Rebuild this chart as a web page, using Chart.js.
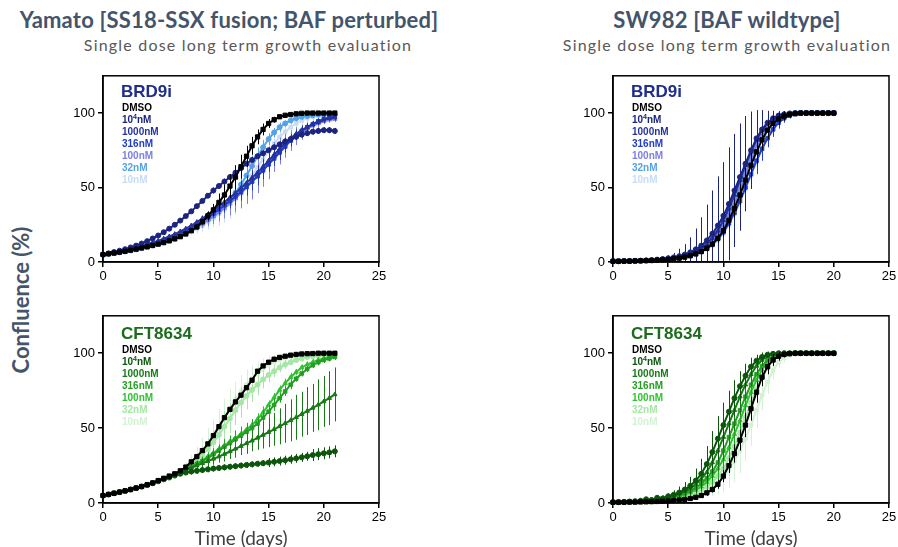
<!DOCTYPE html>
<html>
<head>
<meta charset="utf-8">
<script src="https://cdn.jsdelivr.net/npm/chart.js@4.4.1/dist/chart.umd.min.js"></script>
<style>
  body { margin: 0; width: 898px; height: 547px; background: #fff; position: relative; overflow: hidden; }
  .title { position: absolute; width: 500px; text-align: center; line-height: 1; white-space: nowrap;
           font-family: Lato, "Open Sans", sans-serif; color: #44546a; }
  .main { font-weight: bold; font-size: 22px; top: 9px; letter-spacing: 0.2px; }
  .sub { font-size: 16px; top: 37px; color: #595959; letter-spacing: 1.2px; }
  .ylab { position: absolute; left: 20px; top: 300px; transform: translate(-50%, -50%) rotate(-90deg);
          font-family: Lato, sans-serif; font-weight: bold; font-size: 22px; color: #44546a; white-space: nowrap; }
  canvas { position: absolute; }
</style>
</head>
<body>
<div class="title main" style="left:-21px">Yamato [SS18-SSX fusion; BAF perturbed]</div>
<div class="title sub" style="left:-2px">Single dose long term growth evaluation</div>
<div class="title main" style="left:477px">SW982 [BAF wildtype]</div>
<div class="title sub" style="left:477px">Single dose long term growth evaluation</div>
<div class="ylab">Confluence (%)</div>

<canvas id="yamBrd" width="340" height="225" style="left:50px;top:65px"></canvas>
<canvas id="swBrd" width="340" height="225" style="left:560px;top:65px"></canvas>
<canvas id="yamCft" width="340" height="245" style="left:50px;top:305px"></canvas>
<canvas id="swCft" width="340" height="245" style="left:560px;top:305px"></canvas>

<script>
// time points (days)
const daysYamato = [0,0.5,1,1.5,2,2.5,3,3.5,4,4.5,5,5.5,6,6.5,7,7.5,8,8.5,9,9.5,10,10.5,11,11.5,12,12.5,13,13.5,14,14.5,15,15.5,16,16.5,17,17.5,18,18.5,19,19.5,20,20.5,21];
const daysSW982 = [0,0.5,1,1.5,2,2.5,3,3.5,4,4.5,5,5.5,6,6.5,7,7.5,8,8.5,9,9.5,10,10.5,11,11.5,12,12.5,13,13.5,14,14.5,15,15.5,16,16.5,17,17.5,18,18.5,19,19.5,20];

const doseLabels = ['DMSO', '10\u2074nM', '1000nM', '316nM', '100nM', '32nM', '10nM'];
const xTicks = [0, 5, 10, 15, 20, 25];
const yTicks = [0, 50, 100];

// Yamato + BRD9i (confluence %)
const yamBrdDmso = [5,5.5,6,6.6,7.2,7.9,8.6,9.4,10.2,11.1,12,13,14.2,15.5,17,18.8,21,23.5,27,31,35,40,45,51,57,64,71,78,84,89,93,95.5,97.5,98.5,99,99.5,99.8,100,100,100,100,100,100];
const yamBrd10000 = [5,5.8,6.7,7.6,8.6,9.8,11,12.4,14,15.8,17.8,20,22.4,25,27.8,30.8,34,37.5,41,44.5,48,51,54,57,60,63,66,68.5,71,73,75,77,79,81,82.5,84,85.5,86.5,87.5,88,88.5,88.5,88];
const yamBrd1000 = [5,5.6,6.3,7,7.8,8.7,9.6,10.6,11.7,12.9,14.2,15.6,17.1,18.7,20.5,22.4,24.5,26.8,29.2,31.8,34.5,37.3,40.2,43.2,46.3,49.5,53,56.5,60,64,68,72,76,79.5,83,86,88.5,90.5,92.5,94,95.5,96.5,97];
const yamBrd316 = [5,5.5,6.1,6.8,7.5,8.3,9.2,10.1,11.1,12.2,13.4,14.7,16.1,17.6,19.3,21.1,23.1,25.3,27.6,30,32.6,35.3,38.1,41,44,47.2,50.5,54,57.5,61.5,65.5,69.5,73.5,77.5,81.5,85,88,90.5,92.5,94.5,96,97,98];
const yamBrd100 = [5,5.5,6,6.6,7.3,8,8.8,9.7,10.6,11.6,12.7,13.9,15.2,16.6,18.1,19.8,21.6,23.6,25.8,28.1,30.6,33.3,36.2,39.3,42.6,46.2,50,54,58.2,62.5,66.5,70.5,74.5,78,81.5,84.5,87,89.5,91.5,93,94.5,95.5,96];
const yamBrd32 = [5,5.4,5.9,6.5,7.1,7.8,8.5,9.3,10.2,11.2,12.3,13.5,14.8,16.2,17.8,19.5,21.4,23.5,25.8,28.4,31.2,34.3,37.8,41.8,46.5,52,58,64.5,71,77,82.5,87,90.5,93,95,96.5,97.5,98,98.5,99,99,99,99];
const yamBrd10 = [5,5.4,5.8,6.3,6.9,7.5,8.2,9,9.8,10.7,11.7,12.8,14,15.3,16.8,18.4,20.2,22.2,24.4,26.8,29.4,32.3,35.5,39,43,47.5,52.5,58,63.5,69,74.5,79.5,84,87.5,90.5,93,95,96.5,97.5,98,98.5,99,99];
// Yamato + BRD9i (SD)
const yamBrdDmsoSd = [1,1,1,1,1,1,1,1,1,1,1,1,1,1,1,1,1,1,2,3,4,6,7,8,8,8,7,6,5,4,3,2,1,1,1,1,1,1,1,1,1,1,1];
const yamBrd10000Sd = [1,1,1,1,1,1,1,1,1,1,1,1,1,1,1,1,1,1,1,1,2,2,2,2,2,2,2,2,2,2,2,2,2,2,2,2,2,2,2,2,2,2,2];
const yamBrd1000Sd = [1,1,1,1,1,1,1,1,1,1,1,1,1,1,1,1,1,1,2,2,3,3,4,4,4,5,5,5,5,5,5,4,4,4,3,3,3,2,2,2,2,2,2];
const yamBrd316Sd = [1,1,1,1,1,1,1,1,1,1,1,1,1,1,1,1,1,1,2,3,3,4,5,5,6,6,6,6,6,6,5,5,5,4,4,3,3,3,2,2,2,2,2];
const yamBrd100Sd = [1,1,1,1,1,1,1,1,1,1,1,1,1,1,1,1,2,2,3,4,5,6,7,8,9,10,11,12,12,12,11,10,9,8,7,6,5,4,3,3,2,2,2];
const yamBrd32Sd = [1,1,1,1,1,1,1,1,1,1,1,1,1,1,1,1,1,1,2,3,4,5,6,7,8,8,8,7,6,5,4,3,3,2,2,2,2,2,2,2,2,2,2];
const yamBrd10Sd = [1,1,1,1,1,1,1,1,1,1,1,1,1,1,1,1,2,3,4,5,6,8,9,10,11,12,12,12,12,11,10,9,8,7,6,5,4,3,3,2,2,2,2];

// SW982 + BRD9i
const swBrdDmso = [0.5,0.5,0.6,0.6,0.7,0.8,0.9,1,1.2,1.4,1.7,2.1,2.6,3.3,4.2,5.4,7,9.2,12,16,21,28,36,45,55,65,74,82,88.5,93,96,98,99,99.6,100,100,100,100,100,100,100];
const swBrd10000 = [0.5,0.5,0.6,0.7,0.8,0.9,1.1,1.3,1.6,2,2.5,3.1,3.9,5,6.5,8.5,11,14.5,19,24.5,31,39,48,57,66,75,83,89,93.5,96.5,98.3,99.2,99.7,100,100,100,100,100,100,100,100];
const swBrd1000 = [0.5,0.5,0.6,0.7,0.8,0.9,1,1.2,1.4,1.7,2.1,2.6,3.3,4.2,5.4,7,9.2,12,16,21,28,36,45,55,65,74,82,88.5,93,96,98,99,99.6,100,100,100,100,100,100,100,100];
const swBrd316 = [0.5,0.5,0.6,0.6,0.7,0.8,0.9,1,1.2,1.4,1.7,2.1,2.6,3.3,4.2,5.4,7,9.2,12,15.5,20,26,33,41,50,59,68,76,83,89,93.5,96.5,98.3,99.3,99.8,100,100,100,100,100,100];
const swBrd100 = [0.5,0.5,0.6,0.6,0.7,0.8,0.9,1.1,1.3,1.6,1.9,2.4,3,3.8,4.8,6.2,8,10.5,14,18.5,24,31,40,49,59,69,78,85.5,91,95,97.5,98.8,99.5,100,100,100,100,100,100,100,100];
const swBrd32 = [0.5,0.5,0.6,0.6,0.7,0.8,1,1.2,1.4,1.7,2,2.5,3.2,4,5.1,6.6,8.6,11.3,15,20,26,33,42,52,62,71,80,87,92,95.5,97.8,99,99.6,100,100,100,100,100,100,100,100];
const swBrd10 = [0.5,0.5,0.5,0.6,0.6,0.7,0.8,0.9,1.1,1.3,1.6,2,2.5,3.1,4,5.1,6.5,8.5,11,14.5,19,25,32,40,49,58,67,76,84,90,94.5,97.3,98.8,99.5,100,100,100,100,100,100,100];
const swBrdDmsoSd = [0,0,0,0,0,0,0,0,0,0,0,0,0,0,1,1,1,2,2,3,4,5,6,7,8,8,8,7,6,5,4,3,2,1,1,1,1,1,1,1,1];
const swBrd10000Sd = [0,0,0,0,0,0,0,0,0,1,2,3,5,7,10,14,19,24,29,33,36,38,38,36,32,26,19,13,8,5,3,2,1,1,1,0,0,0,0,0,0];
const swBrd1000Sd = [0,0,0,0,0,0,0,0,0,0,0,0,1,1,2,2,3,4,5,6,8,9,10,10,10,9,8,6,5,4,3,2,1,1,1,0,0,0,0,0,0];
const swBrd316Sd = [0,0,0,0,0,0,0,0,0,0,0,0,0,1,1,2,2,3,4,5,6,8,9,10,10,10,9,8,6,5,4,3,2,1,1,1,0,0,0,0,0];
const swBrd100Sd = [0,0,0,0,0,0,0,0,0,0,0,0,0,1,1,2,2,3,4,5,6,7,7,7,7,6,5,4,3,2,1,1,1,0,0,0,0,0,0,0,0];
const swBrd32Sd = [0,0,0,0,0,0,0,0,0,0,0,0,0,1,1,2,2,3,4,5,6,7,7,7,7,6,5,4,3,2,1,1,1,0,0,0,0,0,0,0,0];
const swBrd10Sd = [0,0,0,0,0,0,0,0,0,0,0,0,0,0,1,1,2,2,3,4,5,6,7,7,7,7,6,5,4,3,2,1,1,1,0,0,0,0,0,0,0];

// Yamato + CFT8634
const yamCftDmso = [5,5.7,6.5,7.3,8.1,9,10,11,12.2,13.4,15,16.5,18,19.5,21.5,24,27.5,31,35,39.5,45,51,57,62.5,67.5,72,77,82,88,91.5,94,96,97.2,98,98.7,99.2,99.5,99.7,99.8,100,100,100,100];
const yamCft10000 = [5,5.7,6.5,7.3,8.1,9,10,11,12,13.2,14.5,15.8,17,18.3,19.5,20.3,21,21.5,22,22.5,23,23.4,23.8,24.2,24.6,25,25.4,25.8,26.2,26.6,27,27.5,28,28.6,29.2,29.8,30.5,31.2,32,32.6,33.2,33.8,34.5];
const yamCft1000 = [5,5.7,6.5,7.3,8.1,9,10,11,12.2,13.4,14.7,16,17.5,19,20.5,22,23.5,25,26.5,28,29.5,31,32.7,34.4,36.2,38,39.8,41.6,43.5,45.4,47.3,49.2,51.2,53.2,55.2,57.2,59.3,61.4,63.5,65.6,67.8,70,72.5];
const yamCft316 = [5,5.7,6.5,7.3,8.1,9,10,11,12.2,13.4,14.7,16,17.4,18.8,20.3,22,24,26,28,30,32.5,35,37.5,40,42.5,45,47.5,50,53,57,61,65.5,70,74.5,79,83,86.5,89.5,92,94,95.5,96.5,97.5];
const yamCft100 = [5,5.7,6.5,7.3,8.1,9,10,11,12.2,13.4,14.7,16,17.4,18.8,20.3,22.2,24.5,26.5,28.5,31,33.5,36,38.5,41,43.5,46,49,52,56,60.5,65.5,70.5,75.5,80,84,87.5,90.5,92.5,94,95.5,96.5,97.5,98];
const yamCft32 = [5,5.7,6.5,7.3,8.1,9,10,11,12.2,13.4,14.7,16,17.4,19,21,23,25.5,28.5,32,36,40.5,45.5,51,56.5,62,67,71.5,75.5,79,82.5,85.5,88,90.5,92.5,94,95.5,96.5,97.5,98,98.5,99,99,99];
const yamCft10 = [5,5.7,6.5,7.3,8.1,9,10,11,12.2,13.4,14.7,16,17.5,19.3,21.5,24,27,30.5,34.5,39,44,50,56.5,63,69,74.5,79,83,86.5,89.5,92,94,95.5,96.5,97.5,98.2,98.8,99.2,99.5,99.7,100,100,100];
const yamCftDmsoSd = [1,1,1,1,1,1,1,1,1,1,1,1,1,1,1,1,1,1,1,1,1,1,1,1,1,1,1,1,1,1,1,1,1,1,1,1,1,1,1,1,1,1,1];
const yamCft10000Sd = [1,1,1,1,1,1,1,1,1,1,1,1,1,1,1,1,2,2,2,2,2,2,2,2,2,2,2,2,2,2,3,3,3,3,3,3,3,3,4,4,4,4,4];
const yamCft1000Sd = [1,1,1,1,1,1,1,1,1,1,1,1,2,2,2,2,3,3,3,4,4,4,5,5,6,6,7,7,8,9,10,11,12,13,14,15,15,16,16,17,17,18,18];
const yamCft316Sd = [1,1,1,1,1,1,1,1,1,1,1,1,1,1,1,1,2,2,3,3,4,4,5,5,6,6,6,6,5,5,4,4,3,3,3,2,2,2,2,2,2,2,2];
const yamCft100Sd = [1,1,1,1,1,1,1,1,1,1,1,1,1,1,1,1,2,2,2,3,3,3,4,4,4,4,4,4,4,4,3,3,3,3,3,2,2,2,2,2,2,2,2];
const yamCft32Sd = [1,1,1,1,1,1,1,1,1,1,1,1,1,1,2,3,4,5,6,7,8,9,10,10,10,10,9,8,7,6,5,4,3,3,2,2,2,2,2,2,2,2,2];
const yamCft10Sd = [1,1,1,1,1,1,1,1,1,1,1,1,1,1,2,3,5,7,9,11,12,13,13,13,12,11,10,9,8,7,6,5,4,3,3,2,2,2,2,2,2,2,2];

// SW982 + CFT8634
const swCftDmso = [0.5,0.5,0.5,0.6,0.6,0.7,0.8,0.9,1,1.2,1.4,1.7,2,2.4,3,3.8,5,6.8,9,12.5,18,25,33,42,52,63,74,84,91,95.5,98,99.2,99.7,100,100,100,100,100,100,100,100];
const swCft10000 = [0.5,0.6,0.8,1,1.2,1.5,2.5,2,3.5,3,4.5,5.5,7,9,11.5,15,19.5,26,34,43,52,61,70,78,85,91,95,97.5,99,99.6,100,100,100,100,100,100,100,100,100,100,100];
const swCft1000 = [0.5,0.6,0.7,0.9,1.1,1.4,1.8,2.2,2.8,3.2,4,5,6.2,7.8,9.8,12.5,16,20.5,27,35,44,53,62,71,79,86,91.5,95.5,98,99.2,99.8,100,100,100,100,100,100,100,100,100,100];
const swCft316 = [0.5,0.5,0.6,0.8,1,1.3,1.6,2,2.5,3,3.6,4.4,5.4,6.6,8.2,10.2,13,16.5,21,27,35,44,53,62,71,79,86,91.5,95.5,98,99.2,99.8,100,100,100,100,100,100,100,100,100];
const swCft100 = [0.5,0.5,0.6,0.7,0.9,1.1,1.4,1.7,2.1,2.6,3.1,3.8,4.6,5.6,7,8.7,11,14,18,23,29,37,46,55,65,74,82,89,94,97,98.7,99.5,100,100,100,100,100,100,100,100,100];
const swCft32 = [0.5,0.5,0.5,0.6,0.7,0.9,1.1,1.3,1.6,2,2.5,3,3.7,4.5,5.6,7,8.8,11,14,18,23,30,38,47,57,67,76,84,90.5,95,97.8,99.2,99.8,100,100,100,100,100,100,100,100];
const swCft10 = [0.5,0.5,0.5,0.5,0.6,0.7,0.8,1,1.2,1.5,1.9,2.3,2.8,3.4,4.2,5.2,6.5,8.2,10.5,13.5,17,22,28,35,43,52,62,72,81,88.5,94,97,98.7,99.5,100,100,100,100,100,100,100];
const swCftDmsoSd = [0,0,0,0,0,0,0,0,0,0,0,0,0,0,1,1,1,2,2,3,4,5,6,7,8,8,7,6,5,4,3,2,1,1,1,0,0,0,0,0,0];
const swCft10000Sd = [0,0,0,0,0,0,1,1,1,2,2,3,4,5,6,8,10,12,14,15,15,14,12,10,8,6,4,3,2,1,1,0,0,0,0,0,0,0,0,0,0];
const swCft1000Sd = [0,0,0,0,0,0,0,1,1,1,2,2,3,4,5,6,8,10,12,14,15,15,14,12,10,8,6,4,3,2,1,1,0,0,0,0,0,0,0,0,0];
const swCft316Sd = [0,0,0,0,0,0,0,0,1,1,1,2,2,3,4,5,6,8,10,12,14,15,15,14,12,10,8,6,4,3,2,1,1,0,0,0,0,0,0,0,0];
const swCft100Sd = [0,0,0,0,0,0,0,0,0,1,1,1,2,2,3,4,5,6,7,8,9,10,10,10,9,8,7,6,5,4,3,2,1,1,0,0,0,0,0,0,0];
const swCft32Sd = [0,0,0,0,0,0,0,0,0,0,1,1,1,2,2,3,4,5,6,8,10,12,12,12,10,8,6,5,4,3,2,1,1,0,0,0,0,0,0,0,0];
const swCft10Sd = [0,0,0,0,0,0,0,0,0,0,0,1,1,1,2,2,3,4,6,8,10,12,14,15,15,14,12,10,8,6,4,3,2,1,1,1,0,0,0,0,0];

const blueColors = ['#000000', '#1b2580', '#27339c', '#1f3cc8', '#7c80e4', '#55a2e8', '#c9dcf6'];
const greenColors = ['#000000', '#0c560c', '#177a17', '#249e24', '#2fc42f', '#a6e6a6', '#d3f2d3'];
const markers = ['rect', 'circle', 'triangle', 'rect', 'triangle', 'circle', 'rect'];

// draws SD whiskers behind each dataset, using the chart's scales
const errorBars = {
    id: 'errorBars',
    beforeDatasetDraw(chart, args) {
        const ds = chart.data.datasets[args.index];
        if (!ds.sd) return;
        const { ctx, chartArea, scales: { x, y } } = chart;
        ctx.save();
        ctx.beginPath();
        ctx.rect(chartArea.left, chartArea.top - 5, chartArea.width, chartArea.height + 5);
        ctx.clip();
        ctx.strokeStyle = ds.borderColor;
        ctx.lineWidth = 1;
        ctx.beginPath();
        ds.data.forEach((p, i) => {
            const e = ds.sd[i];
            if (!e) return;
            const px = Math.round(x.getPixelForValue(p.x)) + 0.5;
            ctx.moveTo(px, y.getPixelForValue(p.y - e));
            ctx.lineTo(px, y.getPixelForValue(p.y + e));
        });
        ctx.stroke();
        ctx.restore();
    }
};

// frame + panel name + dose legend inside the plot
const panelDecor = {
    id: 'panelDecor',
    afterDraw(chart, args, opts) {
        const { ctx, chartArea: a } = chart;
        const font = '"Liberation Sans", Arial, sans-serif';
        ctx.save();
        ctx.strokeStyle = '#000';
        ctx.lineWidth = 1.5;
        ctx.strokeRect(a.left, a.top, a.right - a.left, a.bottom - a.top);
        ctx.textBaseline = 'alphabetic';
        ctx.textAlign = 'left';
        ctx.fillStyle = opts.nameColor;
        ctx.font = 'bold 17px ' + font;
        ctx.fillText(opts.name, a.left + 18, a.top + opts.nameY);
        chart.data.datasets.forEach((ds, i) => {
            const y = a.top + opts.legendY + i * 12;
            let x = a.left + 19;
            ctx.fillStyle = ds.borderColor;
            // superscript handled by hand: the font has no U+2074 glyph
            ds.label.split('\u2074').forEach((part, k) => {
                if (k > 0) {
                    ctx.font = 'bold 7px ' + font;
                    ctx.fillText('4', x, y - 4);
                    x += ctx.measureText('4').width;
                }
                ctx.font = 'bold 10px ' + font;
                ctx.fillText(part, x, y);
                x += ctx.measureText(part).width;
            });
        });
        ctx.restore();
    }
};

function makePanel(id, days, series, sds, colors, name, nameColor, showXTitle) {
    const datasets = series.map((vals, i) => ({
        label: doseLabels[i],
        data: days.map((d, j) => ({ x: d, y: vals[j] })),
        sd: sds[i],
        borderColor: colors[i],
        backgroundColor: colors[i],
        borderWidth: 2,
        showLine: true,
        pointStyle: markers[i],
        pointRadius: i === 0 ? 3 : 2.5,
        pointBorderWidth: 1,
        clip: 4
    }));

    new Chart(document.getElementById(id), {
        type: 'scatter',
        data: { datasets: datasets },
        plugins: [errorBars, panelDecor],
        options: {
            responsive: false,
            animation: false,
            events: [],
            layout: { padding: { top: 10, right: 11, left: 0, bottom: 0 } },
            plugins: {
                legend: { display: false },
                tooltip: { enabled: false },
                panelDecor: { name: name, nameColor: nameColor, nameY: showXTitle ? 23 : 21, legendY: showXTitle ? 37 : 35 }
            },
            scales: {
                x: {
                    type: 'linear', min: 0, max: 25,
                    afterBuildTicks: s => { s.ticks = xTicks.map(v => ({ value: v })); },
                    afterFit: s => { s.height = showXTitle ? 47 : 28; },
                    grid: { drawOnChartArea: false, drawTicks: true, tickLength: 5, color: '#000', lineWidth: 1.5 },
                    border: { color: '#000', width: 1.5 },
                    ticks: { color: '#000', font: { family: '"Liberation Sans", Arial', size: 13 }, padding: 2, maxRotation: 0 },
                    title: {
                        display: showXTitle, text: 'Time (days)', color: '#404040',
                        font: { family: 'Lato, sans-serif', size: 19 }, padding: { top: 1, bottom: 0 }
                    }
                },
                y: {
                    min: 0, max: 125,
                    afterBuildTicks: s => { s.ticks = yTicks.map(v => ({ value: v })); },
                    afterFit: s => { s.width = 53; },
                    grid: { drawOnChartArea: false, drawTicks: true, tickLength: 5, color: '#000', lineWidth: 1.5 },
                    border: { color: '#000', width: 1.5 },
                    ticks: { color: '#000', font: { family: '"Liberation Sans", Arial', size: 13 }, padding: 3 }
                }
            }
        }
    });
}

makePanel('yamBrd', daysYamato,
    [yamBrdDmso, yamBrd10000, yamBrd1000, yamBrd316, yamBrd100, yamBrd32, yamBrd10],
    [yamBrdDmsoSd, yamBrd10000Sd, yamBrd1000Sd, yamBrd316Sd, yamBrd100Sd, yamBrd32Sd, yamBrd10Sd],
    blueColors, 'BRD9i', '#1f2d8c', false);
makePanel('swBrd', daysSW982,
    [swBrdDmso, swBrd10000, swBrd1000, swBrd316, swBrd100, swBrd32, swBrd10],
    [swBrdDmsoSd, swBrd10000Sd, swBrd1000Sd, swBrd316Sd, swBrd100Sd, swBrd32Sd, swBrd10Sd],
    blueColors, 'BRD9i', '#1f2d8c', false);
makePanel('yamCft', daysYamato,
    [yamCftDmso, yamCft10000, yamCft1000, yamCft316, yamCft100, yamCft32, yamCft10],
    [yamCftDmsoSd, yamCft10000Sd, yamCft1000Sd, yamCft316Sd, yamCft100Sd, yamCft32Sd, yamCft10Sd],
    greenColors, 'CFT8634', '#1d6b1d', true);
makePanel('swCft', daysSW982,
    [swCftDmso, swCft10000, swCft1000, swCft316, swCft100, swCft32, swCft10],
    [swCftDmsoSd, swCft10000Sd, swCft1000Sd, swCft316Sd, swCft100Sd, swCft32Sd, swCft10Sd],
    greenColors, 'CFT8634', '#1d6b1d', true);
</script>
</body>
</html>
